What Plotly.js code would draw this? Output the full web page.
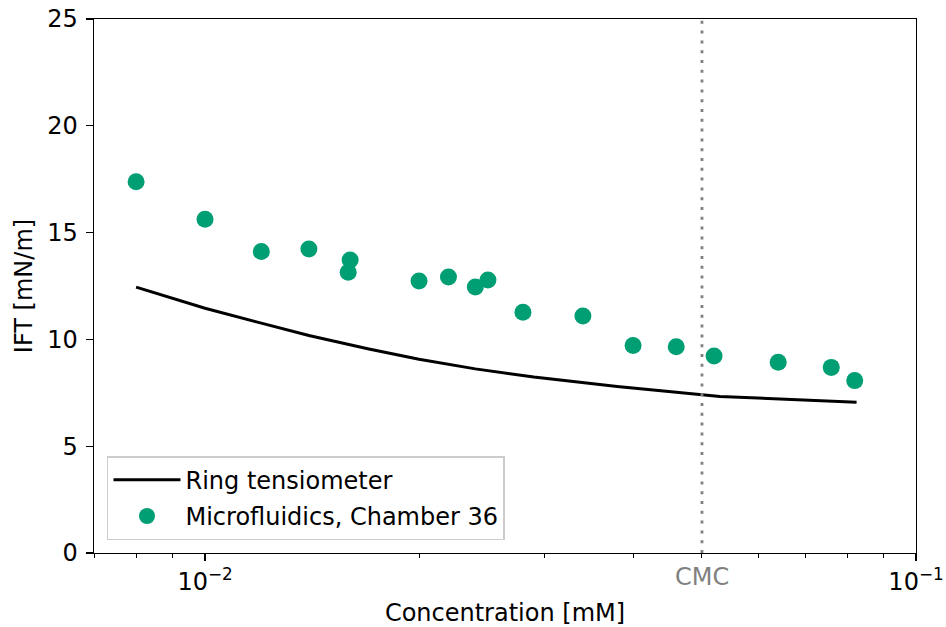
<!DOCTYPE html>
<html>
<head>
<meta charset="utf-8">
<script src="https://cdn.plot.ly/plotly-3.0.1.min.js"></script>
<style>
  html, body { margin: 0; padding: 0; background: #ffffff; }
  #chart { width: 946px; height: 627px; }
</style>
</head>
<body>
<div id="chart"></div>
<script>
// Ring tensiometer reference curve (concentration in mM, IFT in mN/m)
const ringConc = [0.008, 0.01, 0.012, 0.014, 0.017, 0.02, 0.024, 0.029, 0.038, 0.05, 0.053, 0.0825];
const ringIFT  = [12.45, 11.46, 10.76, 10.18, 9.55, 9.07, 8.62, 8.24, 7.79, 7.40, 7.33, 7.06];

// Microfluidic measurements, chamber 36
const chamberConc = [0.008, 0.010, 0.012, 0.014, 0.016, 0.0159, 0.020, 0.022, 0.024, 0.025,
                     0.028, 0.034, 0.040, 0.046, 0.052, 0.064, 0.076, 0.082];
const chamberIFT  = [17.38, 15.62, 14.11, 14.23, 13.72, 13.14, 12.73, 12.92, 12.45, 12.78,
                     11.27, 11.10, 9.71, 9.66, 9.22, 8.93, 8.69, 8.07];

// Critical micelle concentration
const cmc = 0.05;

// Axis ticks
const xMajorVals = [0.01, 0.1];
const xMajorText = ['10<sup>\u22122</sup>', '10<sup>\u22121</sup>'];
const xMinorVals = [0.007, 0.008, 0.009, 0.02, 0.03, 0.04, 0.05, 0.06, 0.07, 0.08, 0.09];
const yTickVals = [0, 5, 10, 15, 20, 25];

const font = 'DejaVu Sans, sans-serif';
const fs = 24;

const traces = [
  {
    x: ringConc, y: ringIFT,
    type: 'scatter', mode: 'lines',
    name: 'Ring tensiometer',
    legendgroup: 'ring',
    line: { color: '#000000', width: 3 }
  },
  {
    x: chamberConc, y: chamberIFT,
    type: 'scatter', mode: 'markers',
    name: 'Microfluidics, Chamber 36',
    legendgroup: 'chamber',
    marker: { color: '#009E73', size: 17, line: { width: 0 } }
  }
];

const layout = {
  width: 946, height: 627,
  margin: { l: 94, r: 30, t: 19, b: 74 },
  paper_bgcolor: '#ffffff',
  plot_bgcolor: '#ffffff',
  font: { family: font, size: fs, color: '#000000' },
  showlegend: true,
  legend: {
    x: 0.0158, y: 0.024, xanchor: 'left', yanchor: 'bottom',
    bgcolor: '#ffffff', bordercolor: '#cccccc', borderwidth: 1.5,
    font: { family: font, size: fs, color: '#000000' },
    itemwidth: 67,
    tracegroupgap: 2
  },
  xaxis: {
    type: 'log',
    range: [Math.log10(0.00698), -1],
    tickmode: 'array', tickvals: xMajorVals, ticktext: xMajorText,
    ticks: 'outside', ticklen: 7, tickwidth: 1.3, tickcolor: '#000000',
    minor: { tickmode: 'array', tickvals: xMinorVals, ticks: 'outside', ticklen: 4, tickwidth: 1, tickcolor: '#000000', showgrid: false },
    showgrid: false, zeroline: false,
    showline: true, linecolor: '#000000', linewidth: 1.3, mirror: true,
    tickfont: { family: font, size: fs },
    title: { text: 'Concentration [mM]', font: { family: font, size: fs }, standoff: 9 }
  },
  yaxis: {
    range: [0, 25],
    tickmode: 'array', tickvals: yTickVals,
    ticks: 'outside', ticklen: 7, tickwidth: 1.3, tickcolor: '#000000',
    ticklabelstandoff: 3,
    showgrid: false, zeroline: false,
    showline: true, linecolor: '#000000', linewidth: 1.3, mirror: true,
    tickfont: { family: font, size: fs },
    title: { text: 'IFT [mN/m]', font: { family: font, size: fs }, standoff: 8 }
  },
  shapes: [
    {
      type: 'line', xref: 'x', yref: 'paper',
      x0: cmc, x1: cmc, y0: 0, y1: 1,
      line: { color: '#808080', width: 2.8, dash: '3px,6.8px' }
    }
  ],
  annotations: [
    {
      x: Math.log10(cmc), xref: 'x',
      y: -0.045, yref: 'paper',
      text: 'CMC', showarrow: false,
      xanchor: 'center', yanchor: 'middle',
      font: { family: font, size: fs, color: '#808080' }
    }
  ]
};

Plotly.newPlot('chart', traces, layout, { displayModeBar: false, staticPlot: true });
</script>
</body>
</html>
